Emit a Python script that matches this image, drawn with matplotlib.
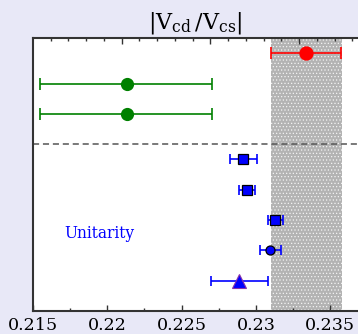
import numpy as np
import matplotlib
matplotlib.use("Agg")
import matplotlib.pyplot as plt

plt.rcParams['font.family'] = ['DejaVu Serif']
plt.rcParams['mathtext.fontset'] = 'dejavuserif'
plt.rcParams['hatch.linewidth'] = 0.5

# Averages / world fit
avg_val, avg_lo, avg_hi, avg_y = 0.2334, 0.2310, 0.2357, 8.5

# Direct determinations (green)
dir_val = [0.2213, 0.2213]
dir_lo = [0.21547, 0.21547]
dir_hi = [0.22707, 0.22707]
dir_y = [7.5, 6.5]

# Lattice / other results (blue squares)
sq_val = [0.22915, 0.22938, 0.23131]
sq_lo = [0.22826, 0.22884, 0.23082]
sq_hi = [0.23006, 0.22992, 0.23180]
sq_y = [5.0, 4.0, 3.0]

# Unitarity (blue circle)
uc_val, uc_lo, uc_hi, uc_y = 0.23095, 0.23028, 0.23169, 2.0

# Blue triangle
tr_val, tr_lo, tr_hi, tr_y = 0.22888, 0.22698, 0.23080, 1.0

# Shaded band
band_lo, band_hi = 0.23102, 0.23577

x_ticks = [0.215, 0.22, 0.225, 0.23, 0.235]
x_tick_labels = ["0.215", "0.22", "0.225", "0.23", "0.235"]

fig = plt.figure(figsize=(3.58, 3.34), dpi=100, facecolor='#e8e8f7')
ax = fig.add_axes([33/358, 23/334, 1 - 33/358, 273/334])
ax.set_facecolor('white')
ax.set_xlim(0.215, 0.23687)
ax.set_ylim(0, 9)

ax.axvspan(band_lo, band_hi, facecolor='#b3b3b3', edgecolor='#f4f4f4',
           hatch='.....', linewidth=0, zorder=0)
ax.axhline(5.5, color='#555555', lw=1.1, ls=(0, (4, 2.5)), zorder=1)


def err(ax, v, lo, hi, y, color, marker, ms, cap, mec=None, mew=0):
    ax.errorbar([v], [y], xerr=[[v - lo], [hi - v]], fmt='none', ecolor=color,
                elinewidth=1.2, capsize=cap, capthick=1.2, zorder=3)
    ax.plot([v], [y], marker=marker, color=color, ms=ms,
            mec=mec if mec else color, mew=mew, ls='none', zorder=4)


err(ax, avg_val, avg_lo, avg_hi, avg_y, 'red', 'o', 10.3, 4.3)
for v, lo, hi, y in zip(dir_val, dir_lo, dir_hi, dir_y):
    err(ax, v, lo, hi, y, 'green', 'o', 9.5, 4.3)
for v, lo, hi, y in zip(sq_val, sq_lo, sq_hi, sq_y):
    err(ax, v, lo, hi, y, 'blue', 's', 7, 3.6, mec='black', mew=0.9)
err(ax, uc_val, uc_lo, uc_hi, uc_y, 'blue', 'o', 6.5, 3.6, mec='black', mew=0.9)
err(ax, tr_val, tr_lo, tr_hi, tr_y, 'blue', '^', 9.5, 3.6, mec='#8833aa', mew=0.8)

ax.text(0.21709, 2.57, "Unitarity", color='blue', fontsize=11.2,
        ha='left', va='center')

ax.set_title(r'$|\mathrm{V}_{\mathrm{cd}}\,/\mathrm{V}_{\mathrm{cs}}|$',
             fontsize=16, pad=7, x=0.5)

# spines
for s in ['left', 'bottom', 'top']:
    ax.spines[s].set_color('#333333')
    ax.spines[s].set_linewidth(1.5)
ax.spines['right'].set_visible(False)

ax.set_yticks([])
ax.set_xticks(x_ticks)
ax.set_xticklabels(x_tick_labels)
ax.set_xticks([0.2175, 0.2225, 0.2275, 0.2325], minor=True)
ax.tick_params(axis='x', which='major', direction='in', length=4, width=1,
               labelsize=12.6, pad=4, color='#333333')
ax.tick_params(axis='x', which='minor', direction='in', length=2.2, width=1,
               color='#333333')

top = ax.secondary_xaxis('top')
step = 0.0011935
top_minor = [0.215 + k * step for k in range(1, 19)]
top_major = top_minor[4::5]
top.set_xticks(top_major)
top.set_xticks(top_minor, minor=True)
top.set_xticklabels([])
top.spines['top'].set_visible(False)
top.tick_params(which='major', direction='in', length=4, width=1, color='#333333')
top.tick_params(which='minor', direction='in', length=2.2, width=1, color='#333333')

fig.savefig("out.png", dpi=100, facecolor=fig.get_facecolor())
